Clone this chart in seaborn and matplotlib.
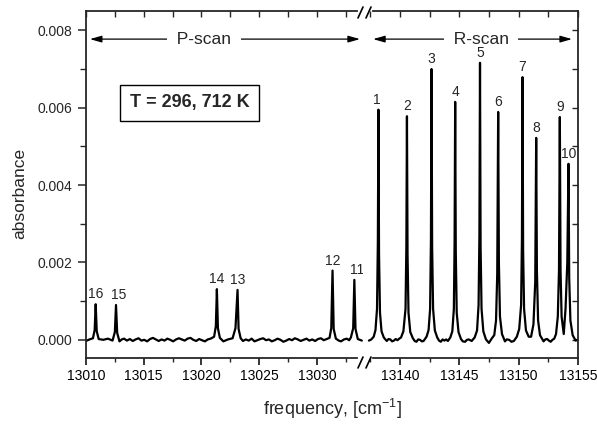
import matplotlib
matplotlib.use("Agg")
import matplotlib.pyplot as plt
from matplotlib.ticker import MultipleLocator, FormatStrFormatter, NullFormatter
from matplotlib.lines import Line2D
import seaborn as sns

# P-scan trace (frequency in cm-1, absorbance)
p_trace = [
    (13010.0, -0.00003), (13010.3, 0.00001), (13010.6, 0.00004), (13010.75, 0.00025),
    (13010.84, 0.00092), (13010.93, 0.00022), (13011.1, 0.00002), (13011.5, 0.00000),
    (13011.9, 0.00003), (13012.3, -0.00002), (13012.5, 0.00020), (13012.6, 0.00090),
    (13012.7, 0.00018), (13012.9, -0.00004), (13013.1, 0.00001), (13013.3, 0.00003),
    (13013.55, -0.00002), (13013.8, 0.00002), (13014.05, -0.00003), (13014.3, 0.00001),
    (13014.55, 0.00004), (13014.8, -0.00002), (13015.05, 0.00000), (13015.3, -0.00004),
    (13015.55, 0.00002), (13015.8, 0.00005), (13016.05, 0.00001), (13016.3, -0.00003),
    (13016.55, 0.00001), (13016.8, -0.00002), (13017.05, 0.00003), (13017.3, 0.00000),
    (13017.55, -0.00004), (13017.8, 0.00001), (13018.05, 0.00004), (13018.3, 0.00001),
    (13018.55, -0.00002), (13018.8, 0.00003), (13019.05, 0.00005), (13019.3, 0.00000),
    (13019.55, -0.00003), (13019.8, 0.00002), (13020.05, -0.00001), (13020.3, -0.00004),
    (13020.55, 0.00001), (13020.8, 0.00003), (13021.1, 0.00008), (13021.25, 0.00035),
    (13021.34, 0.00131), (13021.43, 0.00030), (13021.6, 0.00005), (13021.9, -0.00004),
    (13022.3, 0.00001), (13022.7, 0.00004), (13022.95, 0.00030), (13023.13, 0.00129),
    (13023.22, 0.00028), (13023.4, 0.00004), (13023.6, -0.00003), (13023.85, 0.00001),
    (13024.1, -0.00002), (13024.35, 0.00003), (13024.6, -0.00004), (13024.85, -0.00001),
    (13025.1, 0.00002), (13025.35, 0.00004), (13025.6, -0.00001), (13025.85, 0.00001),
    (13026.1, -0.00004), (13026.35, -0.00001), (13026.6, 0.00003), (13026.85, 0.00000),
    (13027.1, -0.00005), (13027.35, -0.00002), (13027.6, 0.00002), (13027.85, -0.00001),
    (13028.1, 0.00004), (13028.35, 0.00001), (13028.6, -0.00003), (13028.85, 0.00000),
    (13029.1, 0.00003), (13029.35, -0.00002), (13029.6, 0.00001), (13029.85, -0.00003),
    (13030.1, 0.00002), (13030.35, 0.00004), (13030.6, -0.00001), (13030.85, 0.00002),
    (13031.1, 0.00005), (13031.25, 0.00030), (13031.36, 0.00179), (13031.46, 0.00028),
    (13031.65, 0.00003), (13031.9, -0.00002), (13032.1, -0.00004), (13032.35, 0.00001),
    (13032.6, 0.00003), (13032.8, -0.00001), (13032.95, 0.00006), (13033.15, 0.00030),
    (13033.25, 0.00155), (13033.35, 0.00028), (13033.55, 0.00002), (13033.9, -0.00002),
]

# R-scan trace
r_trace = [
    (13137.4, -0.00002), (13137.6, 0.00001), (13137.8, 0.00008), (13137.95, 0.00025),
    (13138.08, 0.0008), (13138.15, 0.0025), (13138.2, 0.00595), (13138.25, 0.0022),
    (13138.33, 0.0007), (13138.46, 0.00022), (13138.65, 0.00006), (13138.9, -0.00003),
    (13139.05, 0.00002), (13139.2, 0.00001), (13139.35, -0.00004), (13139.5, -0.00002),
    (13139.65, 0.00002), (13139.8, -0.00001), (13139.95, 0.00003), (13140.1, 0.00006),
    (13140.3, 0.00022), (13140.48, 0.0008), (13140.55, 0.0024), (13140.6, 0.00578),
    (13140.65, 0.0022), (13140.73, 0.0007), (13140.88, 0.0002), (13141.1, 0.00004),
    (13141.25, -0.00003), (13141.4, -0.00005), (13141.55, 0.00001), (13141.7, 0.00000),
    (13141.85, -0.00004), (13142.0, -0.00003), (13142.25, 0.00008), (13142.42, 0.00025),
    (13142.55, 0.0008), (13142.62, 0.0026), (13142.67, 0.0070), (13142.72, 0.0024),
    (13142.8, 0.0008), (13142.95, 0.00024), (13143.15, 0.00006), (13143.3, -0.00002),
    (13143.45, -0.00005), (13143.6, 0.00001), (13143.75, -0.00002), (13143.9, 0.00001),
    (13144.05, -0.00003), (13144.25, 0.00006), (13144.42, 0.00022), (13144.55, 0.0008),
    (13144.61, 0.0025), (13144.66, 0.00615), (13144.71, 0.0023), (13144.79, 0.0007),
    (13144.94, 0.0002), (13145.15, 0.00002), (13145.3, -0.00004), (13145.5, -0.00005),
    (13145.65, 0.00000), (13145.8, 0.00001), (13146.05, -0.00003), (13146.3, 0.00006),
    (13146.5, 0.00024), (13146.63, 0.0009), (13146.7, 0.0027), (13146.75, 0.00716),
    (13146.8, 0.0024), (13146.88, 0.0008), (13147.03, 0.00022), (13147.25, 0.00001),
    (13147.5, -0.00008), (13147.75, 0.00004), (13147.95, 0.00012), (13148.1, 0.0005),
    (13148.2, 0.0017), (13148.28, 0.00589), (13148.34, 0.0020), (13148.43, 0.0006),
    (13148.6, 0.00015), (13148.85, -0.00004), (13149.0, 0.00001), (13149.2, 0.00000),
    (13149.4, -0.00005), (13149.6, -0.00003), (13149.85, 0.00008), (13150.05, 0.00028),
    (13150.21, 0.0009), (13150.28, 0.0026), (13150.33, 0.00679), (13150.38, 0.0023),
    (13150.46, 0.0008), (13150.62, 0.00024), (13150.85, 0.00008), (13151.05, 0.00008),
    (13151.25, 0.0004), (13151.4, 0.0015), (13151.48, 0.00522), (13151.54, 0.0018),
    (13151.64, 0.0005), (13151.8, 0.00012), (13152.1, -0.00004), (13152.25, 0.00001),
    (13152.4, 0.00002), (13152.55, -0.00002), (13152.7, -0.00005), (13152.85, 0.00000),
    (13153.0, 0.00003), (13153.15, 0.00015), (13153.3, 0.0006), (13153.4, 0.0018),
    (13153.47, 0.00576), (13153.53, 0.0018), (13153.62, 0.0006), (13153.8, 0.00015),
    (13153.95, 0.0008), (13154.1, 0.0020), (13154.2, 0.00455), (13154.26, 0.0016),
    (13154.36, 0.0005), (13154.55, 0.00012), (13154.8, -0.00002), (13155.0, 0.00001),
]
p_freq, p_abs = zip(*p_trace)
r_freq, r_abs = zip(*r_trace)

# line labels
p_ids = ["16", "15", "14", "13", "12", "11"]
p_peak_freq = [13010.84, 13012.6, 13021.34, 13023.13, 13031.36, 13033.25]
p_peak_abs = [0.00092, 0.00090, 0.00131, 0.00129, 0.00179, 0.00155]
r_ids = ["1", "2", "3", "4", "5", "6", "7", "8", "9", "10"]
r_peak_freq = [13138.2, 13140.6, 13142.67, 13144.66, 13146.75, 13148.28, 13150.33, 13151.48, 13153.47, 13154.2]
r_peak_abs = [0.00595, 0.00578, 0.0070, 0.00615, 0.00716, 0.00589, 0.00679, 0.00522, 0.00576, 0.00455]

sns.set_style("ticks")
plt.rcParams["font.family"] = ["Liberation Sans", "DejaVu Sans"]
plt.rcParams["mathtext.default"] = "regular"

W, H = 597, 426
fig = plt.figure(figsize=(W / 100, H / 100), dpi=100)
ax1 = fig.add_axes([86 / W, 68 / H, 277 / W, 347 / H])
ax2 = fig.add_axes([363 / W, 68 / H, 215 / W, 347 / H], sharey=ax1)

sns.lineplot(x=list(p_freq), y=list(p_abs), ax=ax1, color="black", linewidth=1.6, sort=False, estimator=None)
sns.lineplot(x=list(r_freq), y=list(r_abs), ax=ax2, color="black", linewidth=1.6, sort=False, estimator=None)

ax1.set_xlim(13010, 13034.0)
ax2.set_xlim(13136.9, 13155)
ax1.set_ylim(-0.00047, 0.0085)

for ax in (ax1, ax2):
    for s in ax.spines.values():
        s.set_linewidth(1.3)
    ax.xaxis.set_major_locator(MultipleLocator(5))
    ax.xaxis.set_minor_locator(MultipleLocator(2.5))
    ax.xaxis.set_major_formatter(FormatStrFormatter("%d"))
    ax.tick_params(axis="x", which="major", direction="out", length=5, width=1.1,
                   labelsize=10, pad=3, colors="black")
    ax.tick_params(axis="x", which="minor", direction="out", length=3, width=1.0)
    top = ax.secondary_xaxis("top")
    top.xaxis.set_major_locator(MultipleLocator(2.5))
    top.xaxis.set_major_formatter(NullFormatter())
    top.tick_params(direction="in", length=4, width=1.0)
    top.spines["top"].set_visible(False)

ax1.spines["right"].set_visible(False)
ax2.spines["left"].set_visible(False)
ax1.spines["top"].set_bounds(13010, 13033.5)
ax1.spines["bottom"].set_bounds(13010, 13033.5)
ax2.spines["top"].set_bounds(13137.7, 13155)
ax2.spines["bottom"].set_bounds(13137.7, 13155)

ax1.yaxis.set_major_locator(MultipleLocator(0.002))
ax1.yaxis.set_minor_locator(MultipleLocator(0.001))
ax1.yaxis.set_major_formatter(FormatStrFormatter("%.3f"))
ax1.tick_params(axis="y", which="major", direction="out", length=6, width=1.1, labelsize=10, pad=4)
ax1.tick_params(axis="y", which="minor", direction="out", length=4, width=1.0)

ax2.tick_params(axis="y", which="both", left=False, labelleft=False)
right = ax2.secondary_yaxis("right")
right.yaxis.set_major_locator(MultipleLocator(0.001))
right.yaxis.set_major_formatter(NullFormatter())
right.tick_params(direction="in", length=4, width=1.0)
right.spines["right"].set_visible(False)

for ax in (ax1, ax2):
    ax.set_xlabel("")
    ax.set_ylabel("")

# line numbers above peaks
for ids, fx, fy, ax in ((p_ids, p_peak_freq, p_peak_abs, ax1), (r_ids, r_peak_freq, r_peak_abs, ax2)):
    for lab, x, y in zip(ids, fx, fy):
        dx = 2 if lab in ("15", "11") else (-1 if lab == "1" else 0)
        ax.annotate(lab, xy=(x, y), xytext=(dx, 2), textcoords="offset points",
                    ha="center", va="bottom", fontsize=10, zorder=6)

# scan range arrows
arrow = dict(arrowstyle="<|-|>,head_length=0.7,head_width=0.2", color="black", lw=0.9,
             shrinkA=0, shrinkB=0, mutation_scale=10)
ax1.annotate("", xy=(0.014, 0.919), xytext=(0.989, 0.919), xycoords="axes fraction", arrowprops=arrow)
ax1.text(0.426, 0.919, "\u2002P-scan\u2002", transform=ax1.transAxes, ha="center", va="center",
         fontsize=12.5, bbox=dict(facecolor="white", edgecolor="none", pad=0.5), zorder=4)
ax2.annotate("", xy=(0.047, 0.919), xytext=(0.972, 0.919), xycoords="axes fraction", arrowprops=arrow)
ax2.text(0.549, 0.919, "\u2002R-scan\u2002", transform=ax2.transAxes, ha="center", va="center",
         fontsize=12.5, bbox=dict(facecolor="white", edgecolor="none", pad=0.5), zorder=4)

ax1.text(0.374, 0.735, "T = 296, 712 K", transform=ax1.transAxes, ha="center", va="center",
         fontsize=13, fontweight="bold",
         bbox=dict(boxstyle="square,pad=0.55", facecolor="white", edgecolor="black", linewidth=1.0))

# axis break marks
def px(x, y):
    return x / W, 1 - y / H

for y0 in (7, 357):
    for x0 in (358, 366):
        (xa, ya), (xb, yb) = px(x0, y0 + 11), px(x0 + 5, y0)
        fig.add_artist(Line2D([xa, xb], [ya, yb], color="black", lw=1.2))

fig.text(332 / W, 11 / H, "frequency, [cm$^{-1}$]", ha="center", va="baseline", fontsize=13)
fig.text(20 / W, 1 - 193 / H, "absorbance", ha="center", va="center", rotation=90, fontsize=12.5)

fig.savefig("out.png", dpi=100)
